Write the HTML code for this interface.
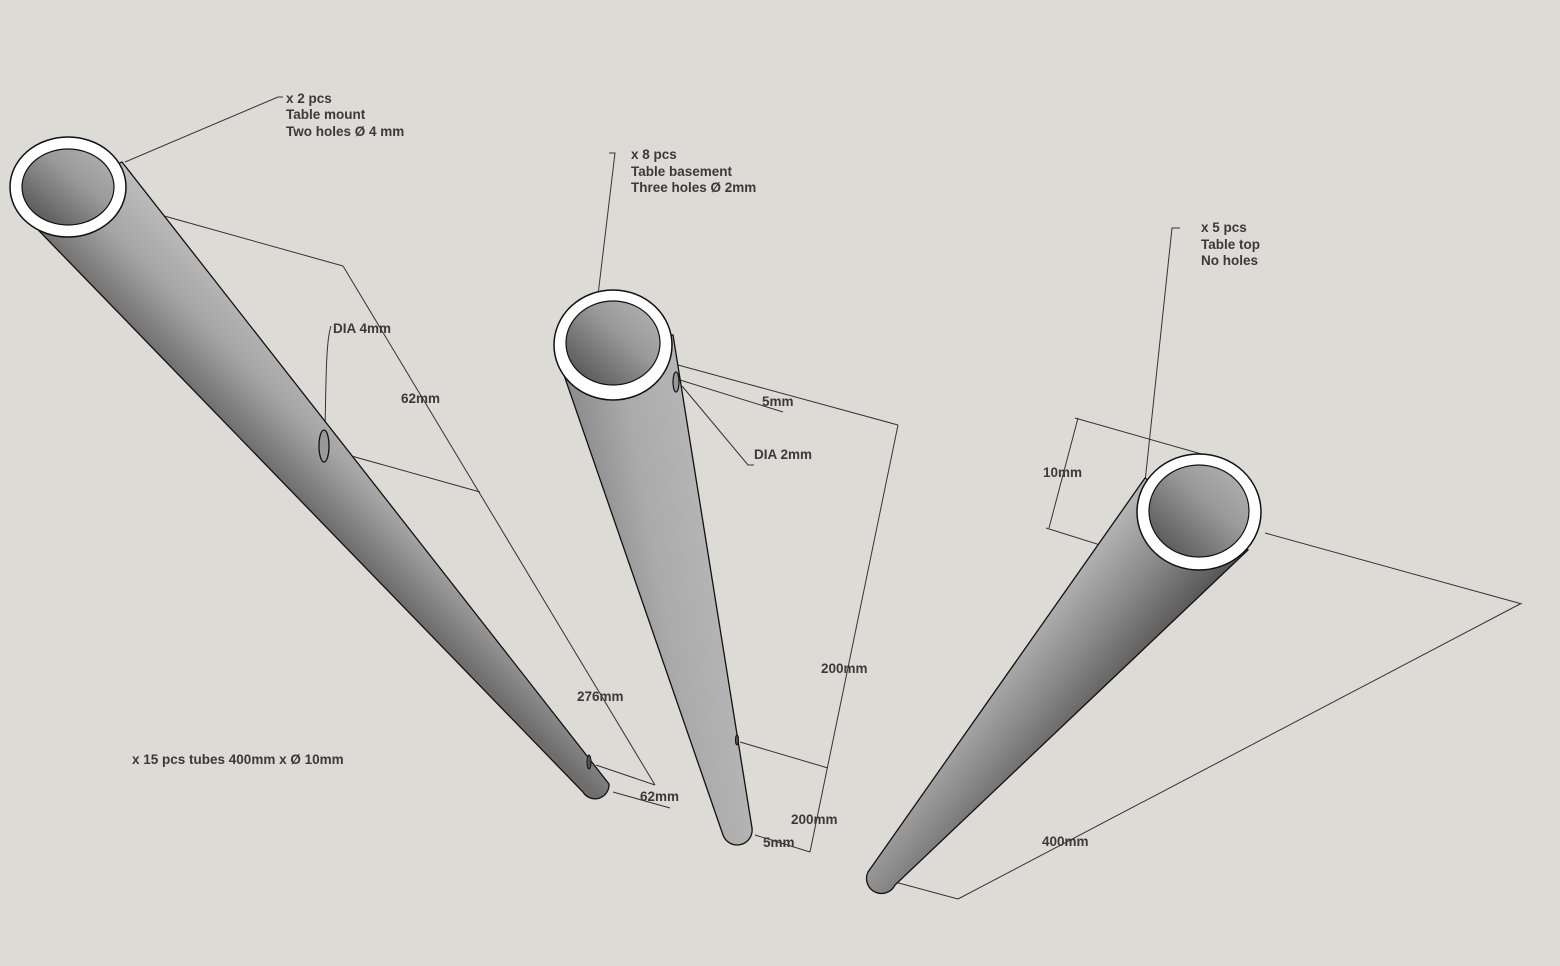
<!DOCTYPE html>
<html><head><meta charset="utf-8"><style>
html,body{margin:0;padding:0;background:#dcdbd6;}
svg{display:block}
text{font-family:"Liberation Sans",sans-serif;font-size:13.5px;font-weight:bold;fill:#3a3a3a}
</style></head><body>
<svg width="1560" height="966" viewBox="0 0 1560 966" xmlns="http://www.w3.org/2000/svg">
<defs>
<linearGradient id="g1" gradientUnits="userSpaceOnUse" x1="30" y1="230" x2="110" y2="150">
<stop offset="0" stop-color="#6e6e6e"/><stop offset="0.5" stop-color="#a5a5a5"/><stop offset="1" stop-color="#bdbdbd"/></linearGradient>
<linearGradient id="g2" gradientUnits="userSpaceOnUse" x1="560" y1="360" x2="675" y2="340">
<stop offset="0" stop-color="#8a8a8a"/><stop offset="0.5" stop-color="#aaaaaa"/><stop offset="1" stop-color="#b5b5b5"/></linearGradient>
<linearGradient id="g3" gradientUnits="userSpaceOnUse" x1="1150" y1="470" x2="1245" y2="550">
<stop offset="0" stop-color="#b8b8b8"/><stop offset="0.5" stop-color="#8a8a8a"/><stop offset="1" stop-color="#555"/></linearGradient>
<linearGradient id="in" x1="0" y1="1" x2="1" y2="0">
<stop offset="0" stop-color="#4a4a4a"/><stop offset="0.6" stop-color="#9a9a9a"/><stop offset="1" stop-color="#b5b5b5"/></linearGradient>
</defs>
<g fill="none" stroke="#333" stroke-width="1">
<polyline points="125,162 278,97 283,97"/>
<line x1="125" y1="205" x2="343" y2="266"/>
<line x1="343" y1="266" x2="655" y2="785"/>
<line x1="330" y1="450" x2="480" y2="492"/>
<line x1="596" y1="765" x2="655" y2="785"/>
<line x1="613" y1="792" x2="670" y2="808"/>
<path d="M325,432 C326,380 326,340 331,326"/>
<polyline points="609,153 615,153 598,295"/>
<line x1="678" y1="365" x2="898" y2="425"/>
<line x1="898" y1="425" x2="810" y2="852"/>
<line x1="680" y1="380" x2="783" y2="412"/>
<line x1="740" y1="742" x2="828" y2="768"/>
<line x1="755" y1="835" x2="810" y2="852"/>
<polyline points="682,386 748,465 754,465"/>
<polyline points="1180,228 1172,228 1145,482"/>
<line x1="1075" y1="418" x2="1205" y2="455"/>
<line x1="1046" y1="528" x2="1180" y2="570"/>
<line x1="1078" y1="418" x2="1049" y2="528"/>
<line x1="1265" y1="533" x2="1522" y2="604"/>
<line x1="1520" y1="604" x2="958" y2="899"/>
<line x1="895" y1="882" x2="958" y2="899"/>
</g>
<path d="M14,205 L122,162 L609,784 A14,14 0 0 1 583,792 Z" fill="url(#g1)" stroke="#111" stroke-width="1.3"/>
<ellipse cx="68" cy="187" rx="58" ry="50" fill="#fff" stroke="#111" stroke-width="1.5"/>
<ellipse cx="68" cy="187" rx="46" ry="38" fill="url(#in)" stroke="#111" stroke-width="1.2"/>
<ellipse cx="324" cy="446" rx="5" ry="16" fill="#999" stroke="#111" stroke-width="1.3"/>
<ellipse cx="589" cy="762" rx="2" ry="7" fill="#555" stroke="#111"/>
<path d="M556,352 L673,335 L752,828 A15,15 0 0 1 723,835 Z" fill="url(#g2)" stroke="#111" stroke-width="1.3"/>
<ellipse cx="613" cy="345" rx="59" ry="55" fill="#fff" stroke="#111" stroke-width="1.5"/>
<ellipse cx="613" cy="343" rx="47" ry="42" fill="url(#in)" stroke="#111" stroke-width="1.2"/>
<ellipse cx="676" cy="382" rx="3" ry="10" fill="#999" stroke="#111" stroke-width="1.2"/>
<ellipse cx="737" cy="740" rx="1.5" ry="5" fill="#555" stroke="#111"/>
<path d="M1145,478 L1248,550 L895,885 A14,14 0 0 1 868,872 Z" fill="url(#g3)" stroke="#111" stroke-width="1.3"/>
<ellipse cx="1199" cy="512" rx="62" ry="58" fill="#fff" stroke="#111" stroke-width="1.5"/>
<ellipse cx="1199" cy="511" rx="50" ry="46" fill="url(#in)" stroke="#111" stroke-width="1.2"/>
<text x="286" y="103">x 2 pcs</text>
<text x="286" y="119">Table mount</text>
<text x="286" y="136">Two holes Ø 4 mm</text>
<text x="333" y="333">DIA 4mm</text>
<text x="401" y="403">62mm</text>
<text x="577" y="701">276mm</text>
<text x="640" y="801">62mm</text>
<text x="631" y="159">x 8 pcs</text>
<text x="631" y="176">Table basement</text>
<text x="631" y="192">Three holes Ø 2mm</text>
<text x="762" y="406">5mm</text>
<text x="754" y="459">DIA 2mm</text>
<text x="821" y="673">200mm</text>
<text x="791" y="824">200mm</text>
<text x="763" y="847">5mm</text>
<text x="1201" y="232">x 5 pcs</text>
<text x="1201" y="249">Table top</text>
<text x="1201" y="265">No holes</text>
<text x="1043" y="477">10mm</text>
<text x="1042" y="846">400mm</text>
<text x="132" y="764">x 15 pcs tubes 400mm x Ø 10mm</text>
</svg>
</body></html>
